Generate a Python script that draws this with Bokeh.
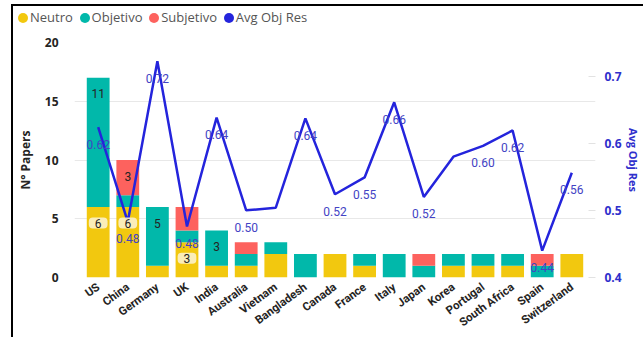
from bokeh.plotting import figure
from bokeh.layouts import column
from bokeh.models import (Range1d, LinearAxis, FixedTicker, Div,
                          ColumnDataSource, FactorRange)
from bokeh.core.properties import value
from bokeh.embed import file_html
from bokeh.resources import INLINE

countries = ["US", "China", "Germany", "UK", "India", "Australia", "Vietnam",
             "Bangladesh", "Canada", "France", "Italy", "Japan", "Korea",
             "Portugal", "South Africa", "Spain", "Switzerland"]
neutro = [6, 6, 1, 3, 1, 1, 2, 0, 2, 1, 0, 0, 1, 1, 1, 0, 2]
objetivo = [11, 1, 5, 1, 3, 1, 1, 2, 0, 1, 2, 1, 1, 1, 1, 1, 0]
subjetivo = [0, 3, 0, 2, 0, 1, 0, 0, 0, 0, 0, 1, 0, 0, 0, 1, 0]
avg_obj_res = [0.624, 0.483, 0.722, 0.476, 0.638, 0.500, 0.504, 0.637, 0.524,
               0.549, 0.661, 0.520, 0.580, 0.596, 0.619, 0.440, 0.556]
avg_label_shown = [True, True, True, True, True, True, False, True, True,
                   True, True, True, False, True, True, True, True]
series_names = ["Neutro", "Objetivo", "Subjetivo", "Avg Obj Res"]
left_ticks = [0, 5, 10, 15, 20]
right_ticks = [0.4, 0.5, 0.6, 0.7]

C_NEU = "#F2C80F"
C_OBJ = "#01B8AA"
C_SUB = "#FD625E"
C_LINE = "#2424DC"
C_LBL = "#4343C4"
FONT = "Open Sans"

src = ColumnDataSource(dict(country=countries, neutro=neutro,
                            objetivo=objetivo, subjetivo=subjetivo,
                            avg=avg_obj_res))

p = figure(x_range=FactorRange(factors=countries, range_padding=0.3,
                               range_padding_units="absolute"),
           y_range=Range1d(0, 20), width=630, height=301,
           output_backend="svg", toolbar_location=None,
           min_border_left=47, min_border_right=39, min_border_top=6,
           min_border_bottom=59)
p.background_fill_color = "white"
p.border_fill_color = "white"
p.outline_line_color = None

p.extra_y_ranges = {"r": Range1d(0.4, 0.75)}

bars = p.vbar_stack(["neutro", "objetivo", "subjetivo"], x="country",
                    width=0.77, color=[C_NEU, C_OBJ, C_SUB], line_color=None,
                    source=src)

p.line(x="country", y="avg", source=src, y_range_name="r",
       line_color=C_LINE, line_width=2.5)

# segment labels (inside end), only for segments >= 3
nx, ny, nt = [], [], []
ox, oy, ot = [], [], []
for c, a, b, s in zip(countries, neutro, objetivo, subjetivo):
    if a >= 3:
        nx.append(c); ny.append(a); nt.append(str(a))
    if b >= 3:
        ox.append(c); oy.append(a + b); ot.append(str(b))
    if s >= 3:
        ox.append(c); oy.append(a + b + s); ot.append(str(s))

p.text(x=nx, y=ny, text=nt, y_offset=16, text_align="center",
       text_baseline="middle", text_font=value("Roboto"),
       text_font_size="12px", text_color="#252423",
       background_fill_color="#FBF1CB", background_fill_alpha=0.9,
       border_radius=4, padding=(6, 1))
p.text(x=ox, y=oy, text=ot, y_offset=16, text_align="center",
       text_baseline="middle", text_font=value("Roboto"),
       text_font_size="12px", text_color="#252423")

lx = [c for c, s in zip(countries, avg_label_shown) if s]
ly = [v for v, s in zip(avg_obj_res, avg_label_shown) if s]
lt = ["%.2f" % v for v, s in zip(avg_obj_res, avg_label_shown) if s]
p.text(x=lx, y=ly, text=lt, y_range_name="r", y_offset=17,
       text_align="center", text_baseline="middle", text_font=value("Roboto"),
       text_font_size="12px", text_color=C_LBL)

# axes
p.yaxis.ticker = FixedTicker(ticks=left_ticks)
p.yaxis.axis_label = "N° Papers"
p.yaxis.axis_label_text_font = FONT
p.yaxis.axis_label_text_font_style = "bold"
p.yaxis.axis_label_text_font_size = "12px"
p.yaxis.axis_label_text_color = "#252423"
p.yaxis.axis_label_standoff = 8
p.yaxis.major_label_text_font = FONT
p.yaxis.major_label_text_font_style = "bold"
p.yaxis.major_label_text_font_size = "12px"
p.yaxis.major_label_text_color = "#252423"
p.yaxis.axis_line_color = None
p.yaxis.major_tick_line_color = None
p.yaxis.minor_tick_line_color = None
p.yaxis.major_label_standoff = 10

ax = LinearAxis(y_range_name="r", ticker=FixedTicker(ticks=right_ticks),
                axis_label="Avg Obj Res")
ax.axis_line_color = None
ax.major_tick_in = 7
ax.major_tick_out = 0
ax.major_tick_line_color = "#E2E2E2"
ax.minor_tick_line_color = None
ax.major_label_standoff = 9
ax.major_label_text_font = FONT
ax.major_label_text_font_style = "bold"
ax.major_label_text_font_size = "12px"
ax.major_label_text_color = "#2F2FCC"
ax.axis_label_text_font = FONT
ax.axis_label_text_font_style = "bold"
ax.axis_label_text_font_size = "11px"
ax.axis_label_text_color = "#2F2FCC"
ax.axis_label_standoff = 1
p.add_layout(ax, "right")

p.xaxis.major_label_orientation = 0.63
p.xaxis.major_label_text_font = "Roboto"
p.xaxis.major_label_text_font_style = "bold"
p.xaxis.major_label_text_font_size = "11.5px"
p.xaxis.major_label_text_color = "#252423"
p.xaxis.axis_line_color = None
p.xaxis.major_tick_line_color = None
p.xaxis.minor_tick_line_color = None
p.xaxis.major_label_standoff = 2

p.xgrid.visible = False
p.ygrid.grid_line_color = "#E8E8E8"

# legend as HTML above the plot (circle markers + labels)
items = []
for name, col in zip(series_names, [C_NEU, C_OBJ, C_SUB, C_LINE]):
    items.append(
        '<span style="display:inline-block;width:10px;height:10px;'
        'border-radius:50%%;background:%s;margin-right:2px;'
        'vertical-align:-1px"></span>%s' % (col, name))
legend_html = ('<div style="font-family:\'Open Sans\';font-size:13px;'
               'color:#555555;white-space:nowrap;padding:3px 0 0 5px;'
               'line-height:16px">' + '&nbsp;&nbsp;'.join(items) + '</div>')
legend_div = Div(text=legend_html, width=630, height=30, margin=(0, 0, 0, 0))

layout = column(legend_div, p, spacing=0, margin=(4, 0, 0, 11),
                styles={"border-top": "2px solid black",
                        "border-left": "2px solid black"})

open("out.html", "w").write(file_html(layout, INLINE))
